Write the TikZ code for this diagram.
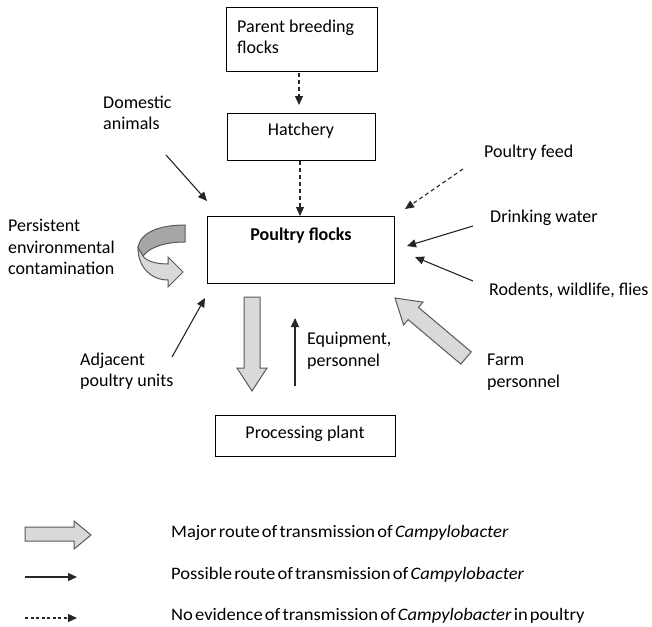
\documentclass[tikz,border=0pt]{standalone}
\usepackage{fontspec}
\setmainfont{Carlito}
\newfontfamily\legendfont{Carlito}[FakeStretch=1.06]
\newcommand\legendsetup{\legendfont\fontsize{17.5}{20}\selectfont\spaceskip 2.2pt plus 0.5pt\relax}
\usetikzlibrary{arrows.meta}
\definecolor{blockfill}{HTML}{D9D9D9}
\definecolor{blockback}{HTML}{A6A6A6}
\definecolor{blockline}{HTML}{595959}
\tikzset{
  stagebox/.style={draw, line width=0.9pt, inner sep=0pt},
  txt/.style={font=\fontsize{18}{21.5}\selectfont, align=left, inner sep=0pt},
  legtxt/.style={font=\legendsetup, inner sep=0pt, anchor=west},
  possible/.style={-{Triangle[length=9pt,width=8pt]}, line width=1.1pt, draw=black!85},
  noevidence/.style={possible, dash pattern=on 4pt off 3pt},
  major/.style={fill=blockfill, draw=blockline, line width=1pt, line join=miter},
}
\begin{document}
\begin{tikzpicture}[x=1pt, y=-1pt]
\useasboundingbox (0,0) rectangle (652,626);

% stages of the production chain
\node[stagebox, minimum width=151pt, minimum height=64pt] (parent) at (301.5,39) {};
\node[txt, anchor=west] (parenttext) at (237,37) {Parent breeding\\flocks};
\node[stagebox, minimum width=148pt, minimum height=47pt] (hatchery) at (301,136.5) {};
\node[txt] (hatcherytext) at (301,131) {Hatchery};
\node[stagebox, minimum width=187pt, minimum height=67pt] (poultry) at (300.5,249.5) {};
\node[txt, font=\fontsize{18}{21.5}\selectfont\bfseries] (poultrytext) at (301,236) {Poultry flocks};
\node[stagebox, minimum width=180pt, minimum height=41pt] (plant) at (305,435.5) {};
\node[txt] (planttext) at (305,434) {Processing plant};

% sources around the flock
\node[txt, anchor=west] (domestic) at (103,113) {Domestic\\animals};
\node[txt, anchor=west] (feed) at (484,153) {Poultry feed};
\node[txt, anchor=west] (water) at (490,218) {Drinking water};
\node[txt, anchor=west] (rodents) at (489,290) {Rodents, wildlife, flies};
\node[txt, anchor=west] (persistent) at (8,247) {Persistent\\environmental\\contamination};
\node[txt, anchor=west] (adjacent) at (80,371) {Adjacent\\poultry units};
\node[txt, anchor=west] (equipment) at (307,351) {Equipment,\\personnel};
\node[txt, anchor=west] (farm) at (487,372) {Farm\\personnel};

% end points of the connectors
\coordinate (pbA) at (299,73);   \coordinate (pbB) at (299,105);
\coordinate (hA) at (300,161);   \coordinate (hB) at (300,216);
\coordinate (dA) at (166,155);   \coordinate (dB) at (207,201);
\coordinate (fA) at (463,169);   \coordinate (fB) at (405,209);
\coordinate (wA) at (473,226);   \coordinate (wB) at (407,246);
\coordinate (rA) at (473,281);   \coordinate (rB) at (415,257);
\coordinate (aA) at (172,357);   \coordinate (aB) at (205,298);
\coordinate (eA) at (295,386);   \coordinate (eB) at (295,318);

\draw[noevidence] (pbA) -- (pbB);
\draw[noevidence] (hA) -- (hB);
\draw[noevidence] (fA) -- (fB);
\draw[possible] (dA) -- (dB);
\draw[possible] (wA) -- (wB);
\draw[possible] (rA) -- (rB);
\draw[possible] (aA) -- (aB);
\draw[possible] (eA) -- (eB);

% major routes: block arrows
\draw[major] (244,297) -- (260,297) -- (260,368) -- (267,368) -- (252,391)
  -- (237,368) -- (244,368) -- cycle;
\draw[major] (395,298) -- (423.0,302.1) -- (418.5,307.4) -- (471.2,351.9)
  -- (460.8,364.1) -- (408.1,319.6) -- (403.6,324.9) -- cycle;

% persistent contamination: curled ribbon arrow
\draw[major, fill=blockback] (185,225) .. controls (160,225) and (140,232) .. (138,248)
  -- (143,256) .. controls (150,247) and (165,242) .. (185,242) -- cycle;
\draw[major] (138,248) .. controls (138,266) and (150,280) .. (168,280)
  -- (168,287) -- (183,272) -- (168,257) -- (168,264)
  .. controls (156,264) and (146,261) .. (143,256) -- cycle;

% legend
\draw[major] (25,527) -- (74,527) -- (74,521) -- (91,535) -- (74,549) -- (74,541) -- (25,541) -- cycle;
\coordinate (lgA) at (25,577); \coordinate (lgB) at (77,577);
\coordinate (lgC) at (25,618); \coordinate (lgD) at (77,618);
\draw[possible] (lgA) -- (lgB);
\draw[noevidence, dash pattern=on 3pt off 2.5pt] (lgC) -- (lgD);
\node[legtxt] (legmajor) at (171,533) {Major route of transmission of \textit{Campylobacter}};
\node[legtxt] (legpossible) at (171,575) {Possible route of transmission of \textit{Campylobacter}};
\node[legtxt] (legnone) at (171,616) {No evidence of transmission of \textit{Campylobacter} in poultry};
\end{tikzpicture}
\end{document}
